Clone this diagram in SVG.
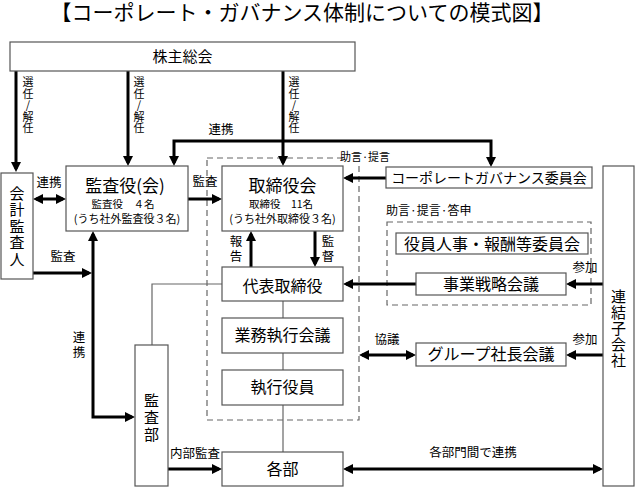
<svg xmlns="http://www.w3.org/2000/svg" width="636" height="487" viewBox="0 0 636 487">
<style>
text{font-family:"Noto Sans CJK JP","Noto Sans CJK SC",sans-serif;fill:#000}
.title{font-family:"Liberation Serif","Noto Sans CJK JP",serif;font-size:21px}
.box{fill:#fff;stroke:#555;stroke-width:1.2}
.dash{fill:none;stroke:#666;stroke-width:1.2;stroke-dasharray:6 4}
.thick{fill:none;stroke:#000;stroke-width:3}
.thin{fill:none;stroke:#666;stroke-width:1.2}
.lbl{font-size:12.5px;text-anchor:middle}
.vl{font-size:11px;text-anchor:middle}
.sm{font-size:11px;text-anchor:middle}
.v15{font-size:15px;text-anchor:middle}
.n15{font-size:15px;text-anchor:middle}
.n16{font-size:16px;text-anchor:middle}
.n17{font-size:17px;text-anchor:middle}
.n14{font-size:14px;text-anchor:middle}
</style>
<defs>
<marker id="ah" viewBox="0 0 10 10" refX="7" refY="5" markerWidth="10" markerHeight="10" markerUnits="userSpaceOnUse" orient="auto-start-reverse">
<path d="M0,0 L10,5 L0,10 z" fill="#000"/>
</marker>
</defs>
<rect width="636" height="487" fill="#fff"/>
<text class="title" x="302" y="20" text-anchor="middle">【コーポレート・ガバナンス体制についての模式図】</text>

<g id="dashed-groups">
<rect class="dash" x="207" y="158" width="152" height="262"/>
<rect class="dash" x="387" y="222" width="204" height="83"/>
</g>

<g id="connectors">
<path class="thin" d="M283,301 V452"/>
<path class="thin" d="M222,284 H152 V345"/>
<path class="thick" d="M16,71 V169" marker-end="url(#ah)"/>
<path class="thick" d="M128,71 V163" marker-end="url(#ah)"/>
<path class="thick" d="M283,71 V163" marker-end="url(#ah)"/>
<path class="thick" d="M174,163 V141 H491 V164" marker-start="url(#ah)" marker-end="url(#ah)"/>
<path class="thick" d="M36,199 H63" marker-start="url(#ah)" marker-end="url(#ah)"/>
<path class="thick" d="M188,199 H219" marker-end="url(#ah)"/>
<path class="thick" d="M251,267 V234" marker-end="url(#ah)"/>
<path class="thick" d="M315,231 V264" marker-end="url(#ah)"/>
<path class="thick" d="M386,178 H346" marker-end="url(#ah)"/>
<path class="thick" d="M416,284 H346" marker-end="url(#ah)"/>
<path class="thick" d="M603,284 H569" marker-end="url(#ah)"/>
<path class="thick" d="M362,355 H413" marker-start="url(#ah)" marker-end="url(#ah)"/>
<path class="thick" d="M603,355 H569" marker-end="url(#ah)"/>
<path class="thick" d="M33,273 H89" marker-end="url(#ah)"/>
<path class="thick" d="M93,234 V417 H132" marker-start="url(#ah)" marker-end="url(#ah)"/>
<path class="thick" d="M168,469 H219" marker-end="url(#ah)"/>
<path class="thick" d="M346,469 H600" marker-start="url(#ah)" marker-end="url(#ah)"/>
</g>

<g id="labels">
<text class="vl" x="28" y="86">選</text><text class="vl" x="28" y="97.5">任</text><text class="vl" x="28" y="109">/</text><text class="vl" x="28" y="120.5">解</text><text class="vl" x="28" y="132">任</text>
<text class="vl" x="139" y="86">選</text><text class="vl" x="139" y="97.5">任</text><text class="vl" x="139" y="109">/</text><text class="vl" x="139" y="120.5">解</text><text class="vl" x="139" y="132">任</text>
<text class="vl" x="294" y="86">選</text><text class="vl" x="294" y="97.5">任</text><text class="vl" x="294" y="109">/</text><text class="vl" x="294" y="120.5">解</text><text class="vl" x="294" y="132">任</text>
<text class="lbl" x="221" y="134">連携</text>
<text class="lbl" x="49" y="187">連携</text>
<text class="lbl" x="205" y="186">監査</text>
<text class="lbl" x="63" y="261">監査</text>
<text class="lbl" x="236" y="246">報</text><text class="lbl" x="236" y="261">告</text>
<text class="lbl" x="328" y="246">監</text><text class="lbl" x="328" y="261">督</text>
<rect x="343" y="150" width="44" height="13" fill="#fff"/>
<text class="sm" x="365" y="161">助言·提言</text>
<text x="386" y="215" style="font-size:12px">助言·提言·答申</text>
<text class="lbl" x="585" y="272">参加</text>
<text class="lbl" x="387" y="344">協議</text>
<text class="lbl" x="585" y="344">参加</text>
<text class="lbl" x="79" y="342">連</text><text class="lbl" x="79" y="357">携</text>
<text class="lbl" x="195" y="458">内部監査</text>
<text class="lbl" x="473" y="457">各部門間で連携</text>
</g>

<g id="kabunushi">
<rect class="box" x="10" y="42" width="345" height="29"/>
<text class="n15" x="182.5" y="62">株主総会</text>
</g>
<g id="kaikei">
<rect class="box" x="1" y="173" width="32" height="106"/>
<text class="v15" x="17" y="198.5">会</text><text class="v15" x="17" y="215">計</text><text class="v15" x="17" y="231.5">監</text><text class="v15" x="17" y="248">査</text><text class="v15" x="17" y="264.5">人</text>
</g>
<g id="kansayaku">
<rect class="box" x="66" y="166" width="122" height="65"/>
<text class="n17" x="125" y="192">監査役(会)</text>
<text class="sm" x="123" y="207.5" style="font-size:10.5px">監査役　４名</text>
<text class="sm" x="127" y="222.5">(うち社外監査役３名)</text>
</g>
<g id="torishimariyakukai">
<rect class="box" x="222" y="166" width="121" height="65"/>
<text class="n17" x="282.5" y="192">取締役会</text>
<text class="sm" x="281" y="207.5" style="font-size:10.5px">取締役　11名</text>
<text class="sm" x="282.5" y="222.5">(うち社外取締役３名)</text>
</g>
<g id="daihyo">
<rect class="box" x="222" y="267" width="121" height="34"/>
<text class="n16" x="282.5" y="292">代表取締役</text>
</g>
<g id="gyomu">
<rect class="box" x="222" y="318" width="121" height="35"/>
<text class="n16" x="282.5" y="341">業務執行会議</text>
</g>
<g id="shikko">
<rect class="box" x="222" y="370" width="121" height="35"/>
<text class="n16" x="282.5" y="393">執行役員</text>
</g>
<g id="kakubu">
<rect class="box" x="222" y="452" width="121" height="34"/>
<text class="n16" x="282.5" y="475">各部</text>
</g>
<g id="kansabu">
<rect class="box" x="135" y="345" width="33" height="141"/>
<text class="v15" x="151.5" y="405.5">監</text><text class="v15" x="151.5" y="422.5">査</text><text class="v15" x="151.5" y="439.5">部</text>
</g>
<g id="cg">
<rect class="box" x="386" y="167" width="206" height="21"/>
<text class="n14" x="489" y="183">コーポレートガバナンス委員会</text>
</g>
<g id="yakuin">
<rect class="box" x="396" y="233" width="192" height="21"/>
<text class="n16" x="492" y="249.5">役員人事・報酬等委員会</text>
</g>
<g id="jigyo">
<rect class="box" x="416" y="273" width="150" height="22"/>
<text class="n16" x="491" y="290">事業戦略会議</text>
</g>
<g id="group">
<rect class="box" x="416" y="343" width="150" height="23"/>
<text class="n16" x="491" y="360">グループ社長会議</text>
</g>
<g id="renketsu">
<rect class="box" x="603" y="166" width="31" height="320"/>
<text class="v15" x="618.5" y="301.5">連</text><text class="v15" x="618.5" y="317.5">結</text><text class="v15" x="618.5" y="333.5">子</text><text class="v15" x="618.5" y="349.5">会</text><text class="v15" x="618.5" y="365.5">社</text>
</g>
</svg>
